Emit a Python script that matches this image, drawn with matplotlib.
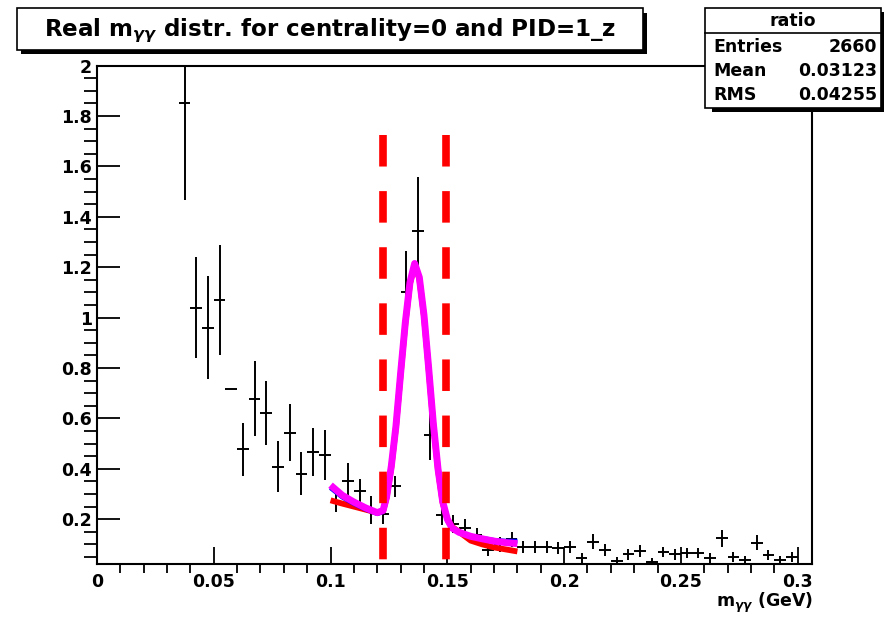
import numpy as np
import matplotlib
matplotlib.use("Agg")
import matplotlib.pyplot as plt
from matplotlib.patches import Rectangle
from matplotlib.lines import Line2D
from matplotlib.ticker import MultipleLocator, FuncFormatter

W, H = 884, 617

# ---- histogram "ratio" (bins of 0.005, first filled bin starts at 0.035) ----
bin_lo = 0.035
bin_width = 0.005
ratio_vals = [1.85, 1.04, 0.96, 1.07, 0.716, 0.478, 0.678, 0.621, 0.409, 0.544,
              0.380, 0.468, 0.456, 0.27, 0.353, 0.31, 0.237, 0.22, 0.33, 1.10,
              1.345, 0.535, 0.217, 0.18, 0.165, 0.137, 0.078, 0.10, 0.12, 0.09,
              0.09, 0.09, 0.085, 0.09, 0.045, 0.11, 0.078, 0.035, 0.06, 0.074,
              0.032, 0.068, 0.06, 0.066, 0.065, 0.045, 0.124, 0.051, 0.04, 0.107,
              0.058, 0.04, 0.05]
ratio_errs = [0.385, 0.20, 0.205, 0.22, 0.0, 0.105, 0.148, 0.128, 0.10, 0.113,
              0.085, 0.095, 0.10, 0.04, 0.07, 0.05, 0.055, 0.04, 0.04, 0.166,
              0.215, 0.10, 0.04, 0.035, 0.035, 0.03, 0.025, 0.03, 0.03, 0.025,
              0.025, 0.025, 0.025, 0.025, 0.02, 0.03, 0.025, 0.015, 0.02, 0.025,
              0.015, 0.02, 0.02, 0.02, 0.02, 0.02, 0.035, 0.02, 0.015, 0.03,
              0.02, 0.015, 0.02]

# ---- fit curves ----
fit_x = [0.100, 0.105, 0.110, 0.115, 0.120, 0.1225, 0.124, 0.126, 0.128, 0.130,
         0.132, 0.134, 0.136, 0.138, 0.140, 0.142, 0.144, 0.146, 0.148, 0.150,
         0.152, 0.155, 0.160, 0.165, 0.170, 0.175, 0.180]
fit_magenta = [0.335, 0.295, 0.268, 0.245, 0.226, 0.235, 0.29, 0.41, 0.57, 0.78,
               0.98, 1.14, 1.215, 1.16, 1.01, 0.80, 0.58, 0.40, 0.27, 0.20,
               0.165, 0.148, 0.132, 0.122, 0.113, 0.107, 0.103]
fit_blue = [0.325, 0.288, 0.262, 0.240, 0.222, 0.23, 0.285, 0.405, 0.565, 0.775,
            0.975, 1.135, 1.21, 1.155, 1.005, 0.795, 0.575, 0.395, 0.265, 0.195,
            0.165, 0.148, 0.133, 0.124, 0.116, 0.113, 0.113]
fit_red = [0.275, 0.262, 0.250, 0.238, 0.226, 0.232, 0.285, 0.405, 0.565, 0.775,
           0.975, 1.135, 1.21, 1.155, 1.005, 0.795, 0.575, 0.395, 0.265, 0.20,
           0.17, 0.15, 0.115, 0.10, 0.088, 0.08, 0.072]

# signal window
cut_lo, cut_hi = 0.1225, 0.1495
cut_top = 1.725

title = r"Real m$_{\gamma\gamma}$ distr. for centrality=0 and PID=1_z"
stat_name = "ratio"
stat_rows = [("Entries", "2660"), ("Mean", "0.03123"), ("RMS", "0.04255")]

plt.rcParams['font.family'] = ['DejaVu Sans']
plt.rcParams['font.weight'] = 'bold'
plt.rcParams['mathtext.fontset'] = 'dejavusans'
plt.rcParams['lines.scale_dashes'] = False

fig = plt.figure(figsize=(W / 100, H / 100), dpi=100)
fig.patch.set_facecolor('white')


def fbox(x0, y0, x1, y1, **kw):
    """Rectangle given in pixel coords (top-left origin) on the figure."""
    r = Rectangle((x0 / W, 1 - y1 / H), (x1 - x0) / W, (y1 - y0) / H,
                  transform=fig.transFigure, **kw)
    fig.add_artist(r)
    return r


ax = fig.add_axes([97 / W, 1 - 564.3 / H, (811.7 - 97) / W, (564.3 - 65.7) / H])

centers = bin_lo + bin_width * (np.arange(len(ratio_vals)) + 0.5)
ax.errorbar(centers, ratio_vals, xerr=bin_width / 2, yerr=ratio_errs,
            fmt='none', ecolor='black', elinewidth=1.4, capsize=0, zorder=2)

ax.plot(fit_x, fit_red, color='red', lw=4.2, zorder=3, solid_capstyle='butt')
ax.plot(fit_x, fit_blue, color='blue', lw=3.5, zorder=4, solid_capstyle='butt')
ax.plot(fit_x, fit_magenta, color='magenta', lw=5.0, zorder=5, solid_capstyle='butt')

for xc in (cut_lo, cut_hi):
    ax.add_line(Line2D([xc, xc], [cut_top, 0.0], color='red', lw=5.5,
                       dashes=(22.7, 17.7), zorder=6))

ax.set_xlim(0, 0.306)
ax.set_ylim(0.021, 2.0)
ax.xaxis.set_major_locator(MultipleLocator(0.05))
ax.xaxis.set_minor_locator(MultipleLocator(0.01))
ax.yaxis.set_major_locator(MultipleLocator(0.2))
ax.yaxis.set_minor_locator(MultipleLocator(0.05))
fmt = FuncFormatter(lambda v, p: f"{v:g}")
ax.xaxis.set_major_formatter(fmt)
ax.yaxis.set_major_formatter(fmt)
ax.tick_params(direction='in', top=False, right=False, labelsize=12.5, width=1.3)
ax.tick_params(axis='y', which='major', length=16.5, pad=3.8)
ax.tick_params(axis='y', which='minor', length=9.4, width=1.3)
ax.tick_params(axis='x', which='major', length=12.2, pad=6)
ax.tick_params(axis='x', which='minor', length=6.5, width=1.3)
for lab in ax.get_xticklabels() + ax.get_yticklabels():
    lab.set_fontweight('bold')
for sp in ax.spines.values():
    sp.set_linewidth(1.5)

# x axis title
fig.text(813.3 / W, 1 - 606.7 / H, r"m$_{\gamma\gamma}$ (GeV)", ha='right',
         va='baseline', fontsize=12.5, fontweight='bold')

# title box with shadow
fbox(21, 12.5, 647, 53.5, facecolor='black', edgecolor='black', lw=0)
fbox(17, 8.3, 642.6, 50, facecolor='white', edgecolor='black', lw=1.2)
fig.text(329.8 / W, 1 - 36 / H, title, ha='center', va='baseline',
         fontsize=16.6, fontweight='bold')

# stats box with shadow
fbox(711.7, 12, 890, 111.7, facecolor='black', edgecolor='black', lw=0, zorder=5)
fbox(705, 8.3, 880.5, 108.3, facecolor='white', edgecolor='black', lw=1.2, zorder=6)
fig.add_artist(Line2D([705 / W, 880.5 / W], [1 - 33.3 / H, 1 - 33.3 / H],
                      transform=fig.transFigure, color='black', lw=1.2, zorder=7))
fig.text(793 / W, 1 - 21.5 / H, stat_name, ha='center', va='center',
         fontsize=12.5, fontweight='bold', zorder=8)
for i, (name, val) in enumerate(stat_rows):
    yy = 1 - (46.7 + 24.2 * i) / H
    fig.text(713 / W, yy, name, ha='left', va='center', fontsize=12.5,
             fontweight='bold', zorder=8)
    fig.text(877 / W, yy, val, ha='right', va='center', fontsize=12.5,
             fontweight='bold', zorder=8)

fig.savefig('out.png', dpi=100)
